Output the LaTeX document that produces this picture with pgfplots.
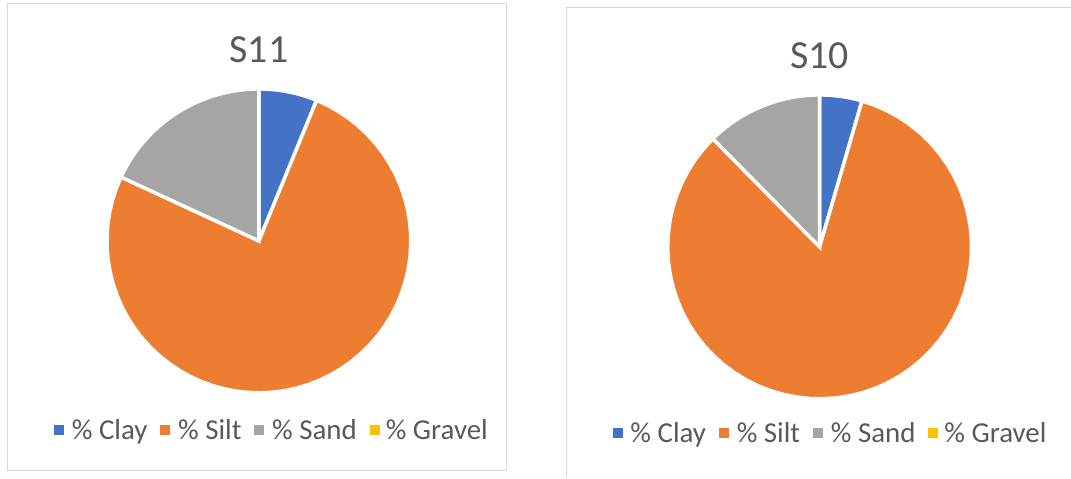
\documentclass[border=0pt]{standalone}
\usepackage{fontspec}
\setmainfont{Carlito}
\usepackage{pgfplots}
\pgfplotsset{compat=1.18}
\definecolor{clay}{HTML}{4472C4}
\definecolor{silt}{HTML}{ED7D31}
\definecolor{sand}{HTML}{A5A5A5}
\definecolor{gravel}{HTML}{FFC000}
\definecolor{textgray}{HTML}{595959}
\definecolor{framegray}{HTML}{D9D9D9}
% percentages (S11, S10)
\def\ClayA{6.2}\def\SiltA{75.7}\def\SandA{18.1}\def\GravelA{0.0}
\def\ClayB{4.5}\def\SiltB{83.1}\def\SandB{12.4}\def\GravelB{0.0}
\pgfmathsetmacro{\aAone}{\ClayA*3.6}
\pgfmathsetmacro{\aAtwo}{(\ClayA+\SiltA)*3.6}
\pgfmathsetmacro{\aAthree}{(\ClayA+\SiltA+\SandA)*3.6}
\pgfmathsetmacro{\aBone}{\ClayB*3.6}
\pgfmathsetmacro{\aBtwo}{(\ClayB+\SiltB)*3.6}
\pgfmathsetmacro{\aBthree}{(\ClayB+\SiltB+\SandB)*3.6}
\pgfplotsset{
  piestyle/.style={
    x=152bp, y=152bp, xmin=-1, xmax=1, ymin=-1, ymax=1,
    hide axis, clip=false, anchor=center,
    title style={anchor=center, font=\fontsize{40}{40}\selectfont, text=textgray},
    legend columns=4,
    legend image code/.code={\fill[##1, draw=none] (0bp,-5bp) rectangle (10bp,5bp); \path (14bp,0bp);},
    legend style={draw=none, fill=none, anchor=center,
      font=\fontsize{29}{29}\selectfont, text=textgray,
      /tikz/every even column/.append style={column sep=11bp},
      /tikz/every odd column/.append style={column sep=0bp}},
  },
  wedge/.style={draw=white, line width=3.5bp, samples=60, no markers},
}
\begin{document}
\begin{tikzpicture}[x=1bp,y=1bp]
\path (0,0) rectangle (1071,478);
\draw[framegray, line width=1bp] (8,7) rectangle (507,474);
\draw[framegray, line width=1bp] (567,0) -- (567,470) -- (1071,470);
\begin{axis}[piestyle, at={(259bp,237bp)}, title={S11}, title style={at={(0.5,1.11)}},
  legend style={at={(0.543,-0.122)}}]
\addplot[wedge, fill=clay, domain=0:\aAone] ({sin(x)},{cos(x)}) -- (axis cs:0,0) -- cycle;
\addplot[wedge, fill=silt, domain=\aAone:\aAtwo] ({sin(x)},{cos(x)}) -- (axis cs:0,0) -- cycle;
\addplot[wedge, fill=sand, domain=\aAtwo:\aAthree] ({sin(x)},{cos(x)}) -- (axis cs:0,0) -- cycle;
\addlegendimage{fill=gravel, draw=none}
\legend{\% Clay, \% Silt, \% Sand, \% Gravel}
\end{axis}
\begin{axis}[piestyle, at={(820bp,231bp)}, title={S10}, title style={at={(0.5,1.11)}},
  legend style={at={(0.536,-0.112)}}]
\addplot[wedge, fill=clay, domain=0:\aBone] ({sin(x)},{cos(x)}) -- (axis cs:0,0) -- cycle;
\addplot[wedge, fill=silt, domain=\aBone:\aBtwo] ({sin(x)},{cos(x)}) -- (axis cs:0,0) -- cycle;
\addplot[wedge, fill=sand, domain=\aBtwo:\aBthree] ({sin(x)},{cos(x)}) -- (axis cs:0,0) -- cycle;
\addlegendimage{fill=gravel, draw=none}
\legend{\% Clay, \% Silt, \% Sand, \% Gravel}
\end{axis}
\end{tikzpicture}
\end{document}
